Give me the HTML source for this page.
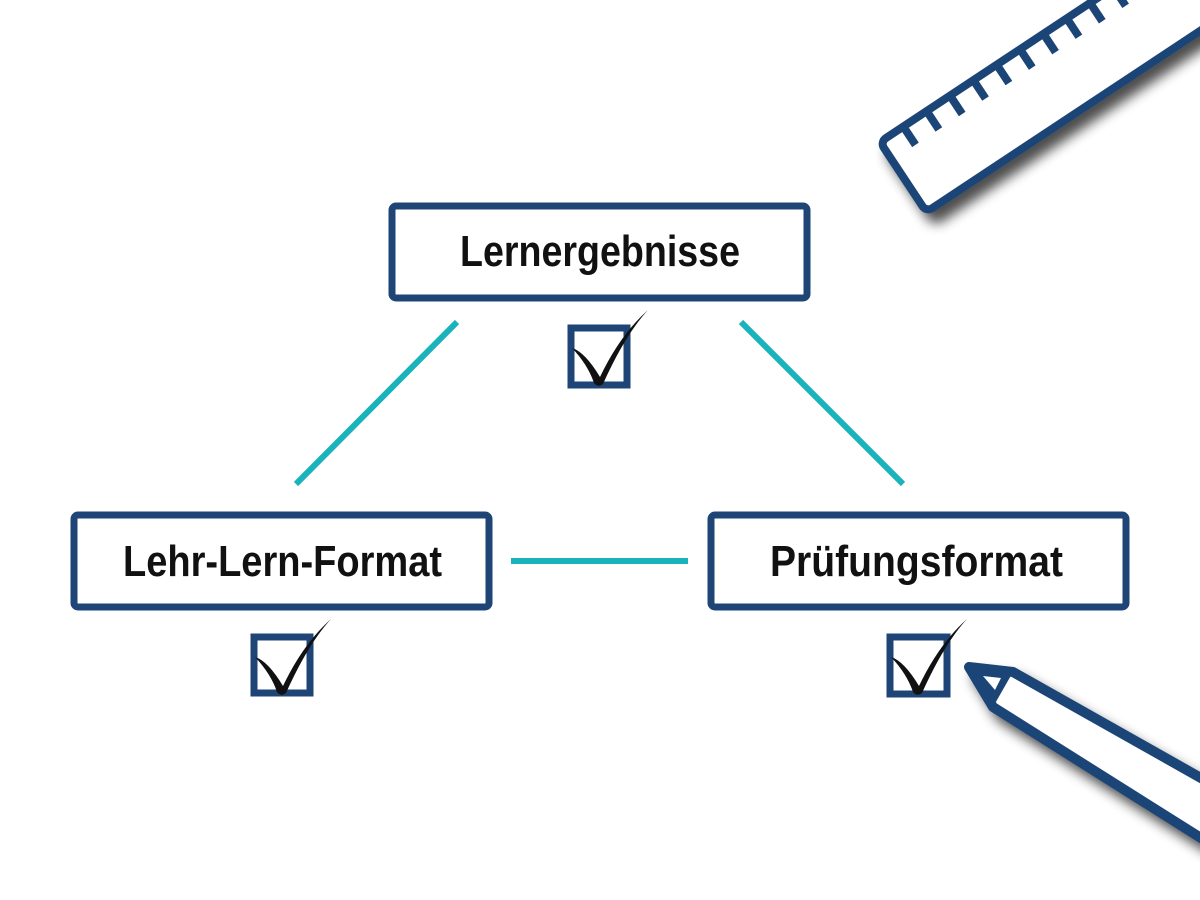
<!DOCTYPE html>
<html><head><meta charset="utf-8"><style>
html,body{margin:0;padding:0;background:#fff;}
svg{display:block}
text{font-family:"Liberation Sans",sans-serif;font-weight:bold;fill:#111;font-size:44px}
</style></head><body>
<svg width="1200" height="900" viewBox="0 0 1200 900" xmlns="http://www.w3.org/2000/svg">
<defs>
<filter id="sh" x="-20%" y="-20%" width="140%" height="140%">
<feGaussianBlur in="SourceAlpha" stdDeviation="6"/>
<feOffset dx="8" dy="10" result="b"/>
<feComponentTransfer><feFuncA type="linear" slope="0.7"/></feComponentTransfer>
<feMerge><feMergeNode/><feMergeNode in="SourceGraphic"/></feMerge>
</filter>
</defs>
<!-- ruler -->
<g filter="url(#sh)">
<g transform="translate(880,142) rotate(-33.5)">
<rect x="0" y="0" width="420" height="84" rx="7" fill="#fff" stroke="#1f4577" stroke-width="8"/>
<g fill="#1f4577">
<rect x="24" y="0" width="8" height="22"/>
<rect x="52" y="0" width="8" height="22"/>
<rect x="80" y="0" width="8" height="22"/>
<rect x="108" y="0" width="8" height="22"/>
<rect x="136" y="0" width="8" height="22"/>
<rect x="164" y="0" width="8" height="22"/>
<rect x="192" y="0" width="8" height="22"/>
<rect x="220" y="0" width="8" height="22"/>
<rect x="248" y="0" width="8" height="22"/>
<rect x="276" y="0" width="8" height="22"/>
<rect x="304" y="0" width="8" height="22"/>
<rect x="332" y="0" width="8" height="22"/>
</g>
</g>
</g>
<!-- pencil -->
<g filter="url(#sh)">
<polygon points="969,667 1013,672 1240,800 1220,850 993,707" fill="#fff" stroke="#1f4577" stroke-width="10" stroke-linejoin="round"/>
<polygon points="969,667 1013,672 993,707" fill="#1f4577"/>
<polygon points="983,676 1001,678 995,690" fill="#fff"/>
</g>
<!-- lines -->
<g stroke="#1ab3bb" stroke-width="6">
<line x1="457" y1="322" x2="296" y2="484"/>
<line x1="741" y1="322" x2="903" y2="484"/>
<line x1="511" y1="561" x2="688" y2="561"/>
</g>
<!-- boxes -->
<g fill="#fff" stroke="#1f4577" stroke-width="7">
<rect x="392" y="206" width="415" height="92" rx="4"/>
<rect x="74" y="515" width="415" height="92" rx="4"/>
<rect x="711" y="515" width="415" height="92" rx="4"/>
</g>
<text x="460" y="266" textLength="280" lengthAdjust="spacingAndGlyphs">Lernergebnisse</text>
<text x="123" y="576" textLength="319" lengthAdjust="spacingAndGlyphs">Lehr-Lern-Format</text>
<text x="770" y="576" textLength="293" lengthAdjust="spacingAndGlyphs">Prüfungsformat</text>
<!-- checkboxes -->
<g fill="none" stroke="#1f4577" stroke-width="7">
<rect x="571" y="328" width="56" height="57"/>
<rect x="254" y="637" width="56" height="56"/>
<rect x="890" y="637" width="57" height="57"/>
</g>
<g fill="#111">
<path d="M572,348 Q585,352 600,377 Q620,335 648,310 Q625,335 603,384 Q598,388 594,383 Q588,365 572,348 Z"/>
<path d="M255,657 Q268,661 283,686 Q303,644 331,619 Q308,644 286,693 Q281,697 277,692 Q271,674 255,657 Z"/>
<path d="M891,657 Q904,661 919,686 Q939,644 967,619 Q944,644 922,693 Q917,697 913,692 Q907,674 891,657 Z"/>
</g>
</svg>
</body></html>
